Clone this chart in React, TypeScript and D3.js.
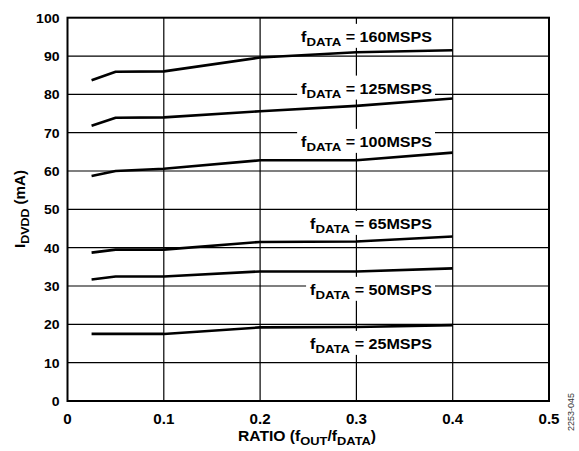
import React, { useEffect, useRef } from "react";
import * as d3 from "d3";

const ratios = [0.025, 0.05, 0.1, 0.2, 0.3, 0.4];
const s160 = [83.7, 85.9, 86.0, 89.6, 91.0, 91.5];
const s125 = [71.8, 73.9, 74.0, 75.6, 77.0, 78.9];
const s100 = [58.7, 60.0, 60.6, 62.8, 62.8, 64.8];
const s65 = [38.7, 39.5, 39.5, 41.5, 41.6, 42.9];
const s50 = [31.7, 32.5, 32.5, 33.8, 33.8, 34.6];
const s25 = [17.5, 17.5, 17.5, 19.2, 19.3, 19.8];
const seriesNames = ["160MSPS", "125MSPS", "100MSPS", "65MSPS", "50MSPS", "25MSPS"];
const seriesValues = [s160, s125, s100, s65, s50, s25];
const labelY = [93.7, 80.2, 66.3, 44.9, 27.7, 13.6];
const xTicks = [0, 0.1, 0.2, 0.3, 0.4, 0.5];
const yTicks = [0, 10, 20, 30, 40, 50, 60, 70, 80, 90, 100];

const W = 579;
const H = 451;
const M = { left: 67.5, top: 17.7 };
const FONT = "'Liberation Sans', Arial, Helvetica, sans-serif";
const SX = 1.15;

export default function App() {
  const ref = useRef<SVGSVGElement>(null);
  useEffect(() => {
    const svg = d3.select(ref.current);
    svg.selectAll("*").remove();
    const x = d3.scaleLinear().domain([0, 0.5]).range([M.left, 549]);
    const y = d3.scaleLinear().domain([0, 100]).range([401, M.top]);

    const g = svg.append("g");
    // grid
    g.selectAll("line.gx").data(xTicks.slice(1, -1)).join("line")
      .attr("x1", (d) => x(d)).attr("x2", (d) => x(d))
      .attr("y1", y(0)).attr("y2", y(100))
      .attr("stroke", "#000").attr("stroke-width", 1.2);
    g.selectAll("line.gy").data(yTicks.slice(1, -1)).join("line")
      .attr("y1", (d) => y(d)).attr("y2", (d) => y(d))
      .attr("x1", x(0)).attr("x2", x(0.5))
      .attr("stroke", "#000").attr("stroke-width", 1.2);

    // labels with white boxes
    const lab = g.append("g");
    seriesNames.forEach((name, i) => {
      const by = y(labelY[i]);
      const t = lab.append("text")
        .attr("transform", `translate(432,${by}) scale(${SX},1)`)
        .attr("text-anchor", "end")
        .attr("font-family", FONT).attr("font-weight", "bold").attr("font-size", 14)
        .attr("fill", "#000");
      t.append("tspan").text("f");
      t.append("tspan").attr("dy", 4).attr("font-size", 11.5).text("DATA");
      t.append("tspan").attr("dy", -4).text(" = " + name);
      const bb = (t.node() as SVGTextElement).getBBox();
      const left = 432 + bb.x * SX;
      lab.append("rect")
        .attr("x", left - 4).attr("width", 435 - left + 4)
        .attr("y", by - 18).attr("height", 24)
        .attr("fill", "#fff");
    });
    lab.selectAll("rect").lower();

    // data lines
    const line = d3.line<number>().x((_, i) => x(ratios[i])).y((d) => y(d));
    g.selectAll("path.s").data(seriesValues).join("path")
      .attr("d", (d) => line(d))
      .attr("fill", "none").attr("stroke", "#000").attr("stroke-width", 2.6)
      .attr("stroke-linejoin", "round");

    // frame
    g.append("rect").attr("x", x(0)).attr("y", y(100))
      .attr("width", x(0.5) - x(0)).attr("height", y(0) - y(100))
      .attr("fill", "none").attr("stroke", "#000").attr("stroke-width", 2);

    // tick labels
    g.selectAll("text.yt").data(yTicks).join("text")
      .attr("transform", (d) => `translate(59.5,${y(d) + 5}) scale(1.04,1)`)
      .attr("text-anchor", "end")
      .attr("font-family", FONT).attr("font-weight", "bold").attr("font-size", 13.5)
      .text((d) => String(d));
    g.selectAll("text.xt").data(xTicks).join("text")
      .attr("transform", (d) => `translate(${x(d)},424) scale(1.08,1)`)
      .attr("text-anchor", "middle")
      .attr("font-family", FONT).attr("font-weight", "bold").attr("font-size", 14)
      .text((d) => String(d));

    // axis titles
    const xt = g.append("text").attr("transform", "translate(307,441) scale(1.12,1)")
      .attr("text-anchor", "middle")
      .attr("font-family", FONT).attr("font-weight", "bold").attr("font-size", 14);
    xt.append("tspan").text("RATIO (f");
    xt.append("tspan").attr("dy", 4).attr("font-size", 11.5).text("OUT");
    xt.append("tspan").attr("dy", -4).text("/f");
    xt.append("tspan").attr("dy", 4).attr("font-size", 11.5).text("DATA");
    xt.append("tspan").attr("dy", -4).text(")");

    const yt = g.append("text").attr("transform", "translate(25,209) rotate(-90) scale(1.08,1)")
      .attr("text-anchor", "middle")
      .attr("font-family", FONT).attr("font-weight", "bold").attr("font-size", 14);
    yt.append("tspan").text("I");
    yt.append("tspan").attr("dy", 4).attr("font-size", 11.5).text("DVDD");
    yt.append("tspan").attr("dy", -4).text(" (mA)");

    g.append("text").attr("transform", "translate(574,412) rotate(-90)")
      .attr("text-anchor", "middle")
      .attr("font-family", FONT).attr("font-size", 9).attr("fill", "#333")
      .text("2253-045");
  }, []);
  return (
    <svg ref={ref} width={W} height={H} style={{ position: "absolute", left: 0, top: 0, background: "#fff" }} />
  );
}
